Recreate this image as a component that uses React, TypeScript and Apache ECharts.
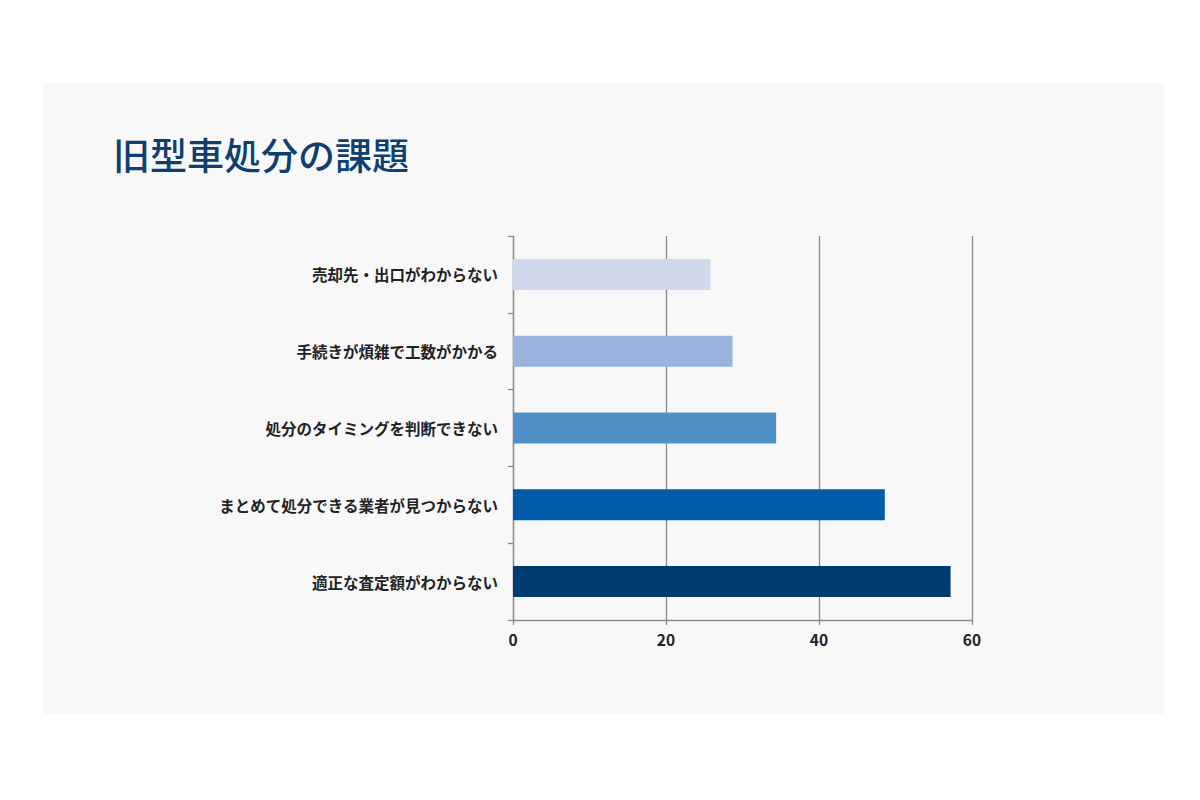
import React, { useEffect, useRef } from "react";
import * as echarts from "echarts";

const titleText = "旧型車処分の課題";
const categories = [
  "売却先・出口がわからない",
  "手続きが煩雑で工数がかかる",
  "処分のタイミングを判断できない",
  "まとめて処分できる業者が見つからない",
  "適正な査定額がわからない",
];
const values = [25.8, 28.7, 34.4, 48.6, 57.2];
const barColors = ["#cfd9eb", "#99b3de", "#4f91c7", "#005bab", "#003b6f"];

const FONT = '"Noto Sans CJK JP", "Noto Sans", sans-serif';

export default function App() {
  const ref = useRef<HTMLDivElement>(null);
  useEffect(() => {
    if (!ref.current) return;
    const chart = echarts.init(ref.current, undefined, { renderer: "svg" });
    chart.setOption({
      animation: false,
      backgroundColor: "#ffffff",
      textStyle: { fontFamily: FONT },
      graphic: [
        {
          type: "rect",
          z: -10,
          shape: { x: 43, y: 83, width: 1121, height: 631 },
          style: { fill: "#f8f8f9" },
          silent: true,
        },
      ],
      title: {
        text: titleText,
        left: 113,
        top: 135,
        padding: 0,
        textStyle: {
          fontFamily: FONT,
          fontSize: 37,
          fontWeight: 500,
          color: "#0d3f70",
        },
      },
      grid: { left: 513, top: 236, width: 459, height: 384, containLabel: false },
      xAxis: {
        type: "value",
        min: 0,
        max: 60,
        interval: 20,
        axisLine: { show: true, lineStyle: { color: "#8a8a8a", width: 1.3 } },
        axisTick: { show: true, length: 5, lineStyle: { color: "#8a8a8a", width: 1.3 } },
        splitLine: { show: true, lineStyle: { color: "#888888", width: 1.3 } },
        axisLabel: {
          margin: 11,
          fontFamily: FONT,
          fontSize: 15.5,
          fontWeight: "bold",
          color: "#222222",
        },
      },
      yAxis: {
        type: "category",
        data: categories,
        inverse: true,
        axisLine: { show: true, lineStyle: { color: "#8a8a8a", width: 1.3 } },
        axisTick: { show: true, length: 5, lineStyle: { color: "#8a8a8a", width: 1.3 } },
        axisLabel: {
          margin: 15,
          fontFamily: FONT,
          fontSize: 15.5,
          fontWeight: "bold",
          color: "#222222",
        },
      },
      series: [
        {
          type: "bar",
          data: values.map((v, i) => ({ value: v, itemStyle: { color: barColors[i] } })),
          barWidth: 31,
        },
      ],
    });
    return () => chart.dispose();
  }, []);
  return (
    <div
      ref={ref}
      style={{ position: "absolute", left: 0, top: 0, width: 1200, height: 800 }}
    />
  );
}
